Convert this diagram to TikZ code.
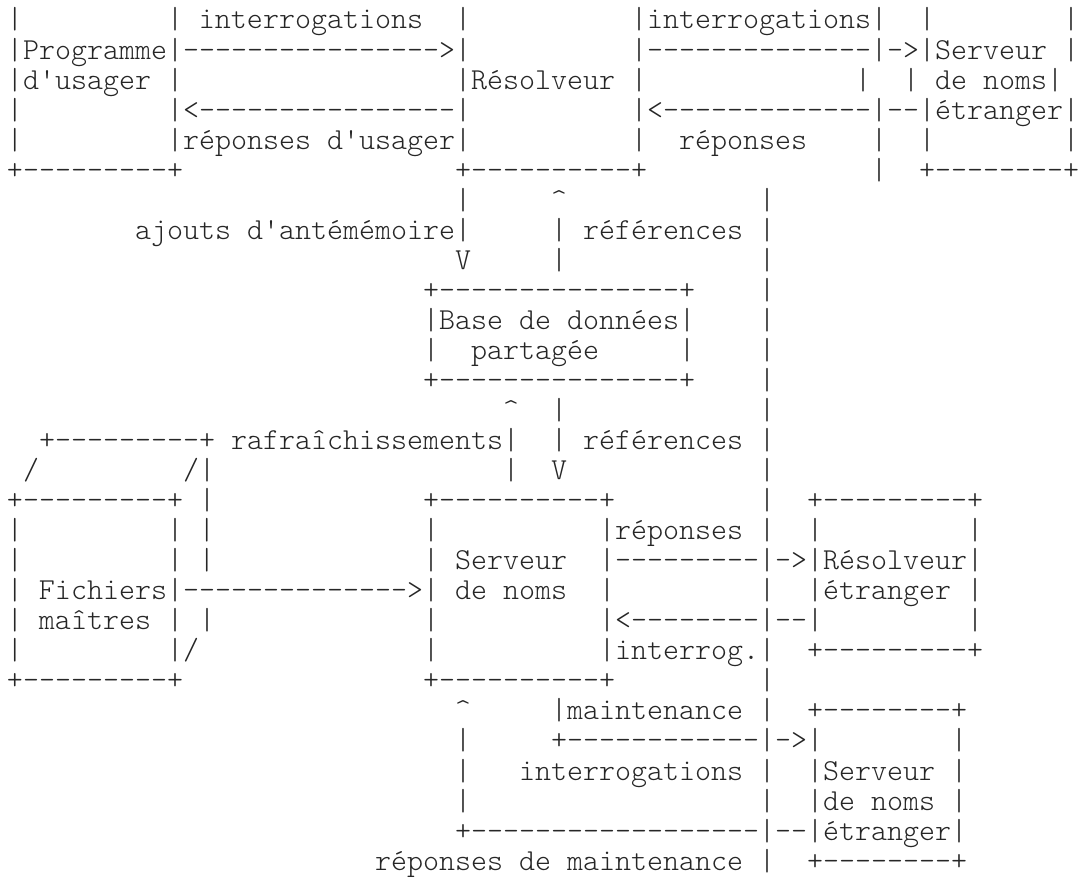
\documentclass[tikz,border=0pt]{standalone}
\usepackage{fontspec}
\usepackage{tikz}
\newfontfamily\asciifont{lmmonolt10-regular.otf}[Ligatures=TeXOff]
\newcommand\blk[1]{\hspace*{#1\fontcharwd\font`\M}}
\newcommand\dsh[1]{\foreach\k in {1,...,#1}{-}}
\tikzset{row/.style={anchor=base west, inner sep=0pt, outer sep=0pt, text=black!85,
    font=\asciifont\fontsize{22.86pt}{27pt}\selectfont\frenchspacing}}
\begin{document}
\begin{tikzpicture}[x=0.75pt, y=-0.75pt]
\useasboundingbox (0,0) rectangle (1079,881);
% one node per text row
\foreach \txt [count=\r] in {
  {|\blk{9}|\blk{1}interrogations\blk{2}|\blk{10}|interrogations|\blk{2}|\blk{8}|},
  {|Programme|\dsh{16}>|\blk{10}|\dsh{14}|->|Serveur\blk{1}|},
  {|d'usager\blk{1}|\blk{17}|Résolveur\blk{1}|\blk{13}|\blk{2}|\blk{1}de noms|},
  {|\blk{9}|<\dsh{16}|\blk{10}|<\dsh{13}|--|étranger|},
  {|\blk{9}|réponses d'usager|\blk{10}|\blk{2}réponses\blk{4}|\blk{2}|\blk{8}|},
  {+\dsh{9}+\blk{17}+\dsh{10}+\blk{14}|\blk{2}+\dsh{8}+},
  {\blk{28}|\blk{5}\textasciicircum{}\blk{12}|},
  {\blk{8}ajouts d'antémémoire|\blk{5}|\blk{1}références\blk{1}|},
  {\blk{28}V\blk{5}|\blk{12}|},
  {\blk{26}+\dsh{15}+\blk{4}|},
  {\blk{26}|Base de données|\blk{4}|},
  {\blk{26}|\blk{2}partagée\blk{5}|\blk{4}|},
  {\blk{26}+\dsh{15}+\blk{4}|},
  {\blk{31}\textasciicircum{}\blk{2}|\blk{12}|},
  {\blk{2}+\dsh{9}+\blk{1}rafraîchissements|\blk{2}|\blk{1}références\blk{1}|},
  {\blk{1}/\blk{9}/|\blk{18}|\blk{2}V\blk{12}|},
  {+\dsh{9}+\blk{1}|\blk{13}+\dsh{10}+\blk{9}|\blk{2}+\dsh{9}+},
  {|\blk{9}|\blk{1}|\blk{13}|\blk{10}|réponses\blk{1}|\blk{2}|\blk{9}|},
  {|\blk{9}|\blk{1}|\blk{13}|\blk{1}Serveur\blk{2}|\dsh{9}|->|Résolveur|},
  {|\blk{1}Fichiers|\dsh{14}>|\blk{1}de noms\blk{2}|\blk{9}|\blk{2}|étranger\blk{1}|},
  {|\blk{1}maîtres\blk{1}|\blk{1}|\blk{13}|\blk{10}|<\dsh{8}|--|\blk{9}|},
  {|\blk{9}|/\blk{14}|\blk{10}|interrog.|\blk{2}+\dsh{9}+},
  {+\dsh{9}+\blk{15}+\dsh{10}+\blk{9}|},
  {\blk{28}\textasciicircum{}\blk{5}|maintenance\blk{1}|\blk{2}+\dsh{8}+},
  {\blk{28}|\blk{5}+\dsh{12}|->|\blk{8}|},
  {\blk{28}|\blk{3}interrogations\blk{1}|\blk{2}|Serveur\blk{1}|},
  {\blk{28}|\blk{18}|\blk{2}|de noms\blk{1}|},
  {\blk{28}+\dsh{18}|--|étranger|},
  {\blk{23}réponses de maintenance\blk{1}|\blk{2}+\dsh{8}+}}
  \node[row] (r\r) at (7, {29+(\r-1)*30.04}) {\txt};
\end{tikzpicture}
\end{document}
